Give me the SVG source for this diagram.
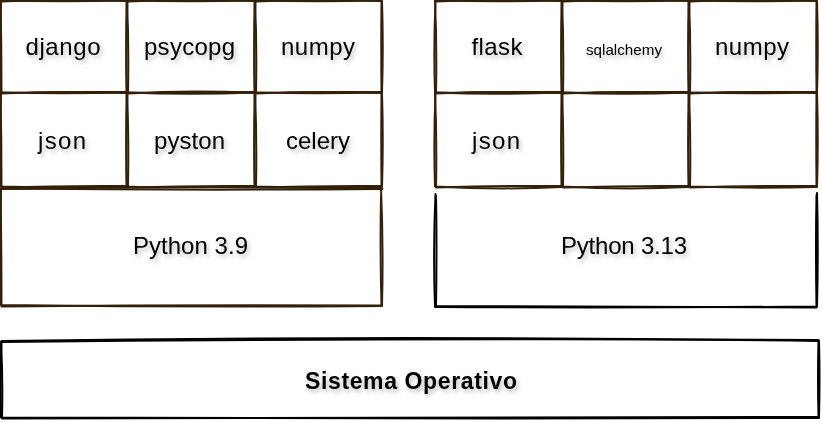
<svg xmlns="http://www.w3.org/2000/svg" width="822" height="422" viewBox="0 0 822 422">
<defs>
<filter id="sh" x="-20%" y="-50%" width="140%" height="200%">
<feDropShadow dx="2" dy="3" stdDeviation="2" flood-color="#000" flood-opacity="0.25"/>
</filter>
</defs>
<style>
.bg{fill:#fff;stroke:none}
.sk{fill:none;stroke:#33200a;stroke-width:2;stroke-linecap:round;stroke-linejoin:round}
.skb{fill:none;stroke:#000;stroke-width:2;stroke-linecap:round;stroke-linejoin:round}
.t{font-family:"Liberation Sans",Arial,sans-serif;font-size:24px;fill:#000;text-anchor:middle;filter:url(#sh)}
.s{font-size:15px}
.b{font-weight:bold;font-size:23px}
</style>
<rect x="0" y="0" width="822" height="422" fill="#fff"/>
<g id="left-stack">
<g id="django"><rect class="bg" x="1" y="1" width="126" height="92"/>
<path class="sk" d="M1,1.5 Q64,-1 127,1 Q128.5,47 127,93 Q64,94.5 1,92.5 Q-0.5,47 1,1.5"/>
<path class="sk" d="M0.5,0.5 Q63,2 126.5,0.5 Q126,46 126.5,92 Q63,91.5 1.5,93.5 Q1.5,46 0.5,0.5"/>
<text class="t" x="63" y="55" textLength="75">django</text></g>
<g id="psycopg"><rect class="bg" x="127" y="1" width="128" height="92"/>
<path class="sk" d="M127.5,1.5 Q191,-1 255,1 Q256.5,47 255,93 Q191,94.5 127,92.5 Q125.5,47 127.5,1.5"/>
<path class="sk" d="M127,0.5 Q191,2 254.5,0.5 Q254,46 254.5,92 Q191,91.5 128,93.5 Q129,46 127,0.5"/>
<text class="t" x="189.5" y="55" textLength="91">psycopg</text></g>
<g id="numpy1"><rect class="bg" x="255" y="1" width="127" height="92"/>
<path class="sk" d="M255.5,1.5 Q318,-1 382,1 Q383.5,47 382,93 Q318,94.5 255,92.5 Q253.5,47 255.5,1.5"/>
<path class="sk" d="M255,0.5 Q318,2 381.5,0.5 Q381,46 381.5,92 Q318,91.5 256,93.5 Q257,46 255,0.5"/>
<text class="t" x="318" y="55" textLength="74">numpy</text></g>
<g id="json1"><rect class="bg" x="1" y="93" width="126" height="94"/>
<path class="sk" d="M1,93.5 Q64,91 127,93 Q128.5,140 127,187 Q64,188.5 1,186.5 Q-0.5,140 1,93.5"/>
<path class="sk" d="M0.5,92.5 Q63,94 126.5,92.5 Q126,139 126.5,186 Q63,185.5 1.5,187.5 Q1.5,139 0.5,92.5"/>
<text class="t" x="62" y="149" textLength="48">json</text></g>
<g id="pyston"><rect class="bg" x="127" y="93" width="128" height="94"/>
<path class="sk" d="M127.5,93.5 Q191,90 255,93 Q256.5,140 255,187 Q191,190 127,186.5 Q125.5,140 127.5,93.5"/>
<path class="sk" d="M127,92.5 Q191,95 254.5,92.5 Q254,139 254.5,186 Q191,185.5 128,187.5 Q129,139 127,92.5"/>
<text class="t" x="189.5" y="149" textLength="71">pyston</text></g>
<g id="celery"><rect class="bg" x="255" y="93" width="127" height="94"/>
<path class="sk" d="M255.5,93.5 Q318,91 382,93 Q383.5,140 382,187 Q318,188.5 255,186.5 Q253.5,140 255.5,93.5"/>
<path class="sk" d="M255,92.5 Q318,94 381.5,92.5 Q381,139 381.5,186 Q318,185.5 256,187.5 Q257,139 255,92.5"/>
<text class="t" x="318" y="149" textLength="64">celery</text></g>
<g id="python39"><rect class="bg" x="1" y="188" width="381" height="118"/>
<path class="sk" d="M1,189 Q190,186 381,188.5 Q383.5,247 382,306 Q190,307.5 1,305 Q-0.5,247 1,189"/>
<path class="sk" d="M0.5,188.5 Q191,190.5 382.5,189 M381,196 Q380,250 381.5,305.5 Q191,304.5 1.5,306.5 Q1.5,247 0.5,188.5"/>
<text class="t" x="190.5" y="254" textLength="115">Python 3.9</text></g>
</g>
<g id="right-stack">
<g id="flask"><rect class="bg" x="435" y="1" width="127" height="92"/>
<path class="sk" d="M435.5,1.5 Q498,-1 562,1 Q563.5,47 562,93 Q498,94.5 435,92.5 Q433.5,47 435.5,1.5"/>
<path class="sk" d="M435,0.5 Q498,2 561.5,0.5 Q561,46 561.5,92 Q498,91.5 436,93.5 Q437,46 435,0.5"/>
<text class="t" x="497" y="55" textLength="51">flask</text></g>
<g id="sqlalchemy"><rect class="bg" x="562" y="1" width="127" height="92"/>
<path class="sk" d="M562.5,1.5 Q625,-1 689,1 Q690.5,47 689,93 Q625,94.5 562,92.5 Q560.5,47 562.5,1.5"/>
<path class="sk" d="M562,0.5 Q625,2 688.5,0.5 Q688,46 688.5,92 Q625,91.5 563,93.5 Q564,46 562,0.5"/>
<text class="t s" x="624" y="55" textLength="76" lengthAdjust="spacingAndGlyphs">sqlalchemy</text></g>
<g id="numpy2"><rect class="bg" x="689" y="1" width="128" height="92"/>
<path class="sk" d="M689.5,1.5 Q753,-1 817,1 Q818.5,47 817,93 Q753,94.5 689,92.5 Q687.5,47 689.5,1.5"/>
<path class="sk" d="M689,0.5 Q753,2 816.5,0.5 Q816,46 816.5,92 Q753,91.5 690,93.5 Q691,46 689,0.5"/>
<text class="t" x="752" y="55" textLength="74">numpy</text></g>
<g id="json2"><rect class="bg" x="435" y="93" width="127" height="94"/>
<path class="sk" d="M435.5,93.5 Q498,91 562,93 Q563.5,140 562,187 Q498,190 435,186.5 Q433.5,140 435.5,93.5"/>
<path class="sk" d="M435,92.5 Q498,95 561.5,92.5 Q561,139 561.5,186 Q498,185.5 436,187.5 Q437,139 435,92.5"/>
<text class="t" x="496" y="149" textLength="48">json</text></g>
<g id="empty1"><rect class="bg" x="562" y="93" width="127" height="94"/>
<path class="sk" d="M562.5,93.5 Q625,91 689,93 Q690.5,140 689,187 Q625,190 562,186.5 Q560.5,140 562.5,93.5"/>
<path class="sk" d="M562,92.5 Q625,95 688.5,92.5 Q688,139 688.5,186 Q625,185.5 563,187.5 Q564,139 562,92.5"/></g>
<g id="empty2"><rect class="bg" x="689" y="93" width="128" height="94"/>
<path class="sk" d="M689.5,93.5 Q753,91 817,93 Q818.5,140 817,187 Q753,188.5 689,186.5 Q687.5,140 689.5,93.5"/>
<path class="sk" d="M689,92.5 Q753,94 816.5,92.5 Q816,139 816.5,186 Q753,185.5 690,187.5 Q691,139 689,92.5"/></g>
<g id="python313"><rect class="bg" x="435" y="190" width="382" height="117"/>
<path class="skb" d="M435.5,194 Q433,248 435,307 Q626,308 817,306.5 Q818.5,248 817,193"/>
<path class="skb" d="M436,196 Q437,248 436,306 Q626,306 816.5,307.5 Q815.5,248 816.5,195"/>
<text class="t" x="624" y="254" textLength="126">Python 3.13</text></g>
</g>
<g id="os"><rect class="bg" x="1" y="340" width="818" height="78"/>
<path class="skb" d="M1.5,341 Q410,335 819,341 Q820,379 819,418 Q410,419 1,417.5 Q0,379 1.5,341"/>
<path class="skb" d="M1,342 Q410,338 818.5,340 Q817.5,379 818.5,417 Q410,416.5 2,418.5 Q3,379 1,342"/>
<text class="t b" x="411" y="389" textLength="212">Sistema Operativo</text></g>
<g id="connectors"/>
</svg>
